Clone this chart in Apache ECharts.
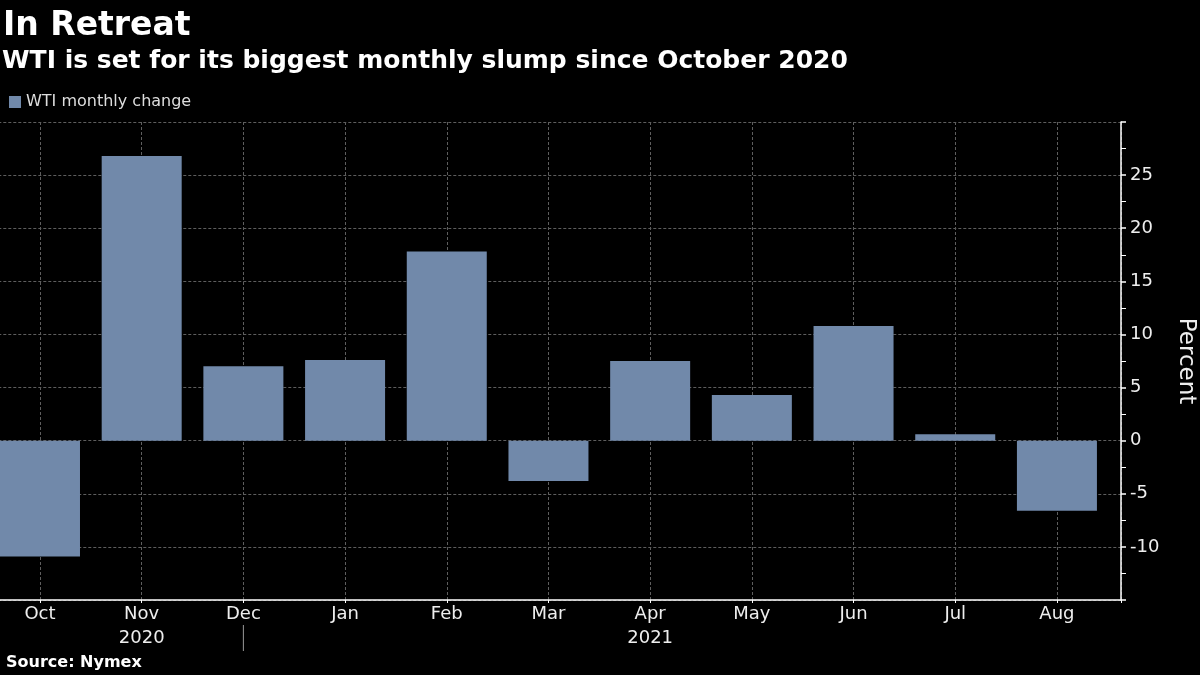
<!DOCTYPE html>
<html lang="en">
<head>
    <meta charset="UTF-8">
    <script src="https://cdn.jsdelivr.net/npm/echarts@6.0.0/dist/echarts.min.js"></script>
    <title>In Retreat</title>
    <style>
        html, body { margin: 0; padding: 0; background: #000; }
    </style>
</head>
<body>
<div id="main" style="width: 1200px;height:675px;"></div>

<script>
    // data
    var months = ['Oct', 'Nov', 'Dec', 'Jan', 'Feb', 'Mar', 'Apr', 'May', 'Jun', 'Jul', 'Aug'];
    var years = ['', '2020', '', '', '', '', '2021', '', '', '', ''];
    var yearBreak = 'Dec';
    var wtiChange = [-10.9, 26.8, 7.0, 7.6, 17.8, -3.8, 7.5, 4.3, 10.8, 0.6, -6.6];

    var font = 'DejaVu Sans';

    var barData = [];
    for (var i = 0; i < months.length; i++) {
        barData.push([i, wtiChange[i]]);
    }

    var chartDom = document.getElementById('main');
    var myChart = echarts.init(chartDom);
    var option = {
        backgroundColor: '#000',
        animation: false,
        title: [
            {
                text: 'In Retreat',
                left: 3,
                top: 10,
                padding: 0,
                textStyle: { color: '#fff', fontFamily: font, fontSize: 33, fontWeight: 'bold' }
            },
            {
                text: 'WTI is set for its biggest monthly slump since October 2020',
                left: 2,
                top: 49,
                padding: 0,
                textStyle: { color: '#fff', fontFamily: font, fontSize: 25, fontWeight: 'bold' }
            },
            {
                text: 'Source: Nymex',
                left: 6,
                top: 655,
                padding: 0,
                textStyle: { color: '#fff', fontFamily: font, fontSize: 16, fontWeight: 'bold' }
            }
        ],
        legend: {
            left: 4,
            top: 89,
            icon: 'rect',
            itemWidth: 12,
            itemHeight: 12,
            textStyle: { color: '#ddd', fontFamily: font, fontSize: 16 },
            data: ['WTI monthly change']
        },
        grid: {
            left: -61.7,
            right: 79,
            top: 122,
            bottom: 75,
            containLabel: false,
            outerBoundsMode: 'none'
        },
        xAxis: {
            type: 'value',
            min: -1,
            max: 10.63,
            interval: 1,
            axisLine: { show: true, onZero: false, lineStyle: { color: '#fff', width: 1.5 } },
            axisTick: { show: true, length: 3, lineStyle: { color: '#fff' } },
            splitLine: { show: true, lineStyle: { color: '#5e5e5e', type: [3, 2] } },
            axisLabel: {
                margin: 3,
                formatter: function (v) {
                    var k = Math.round(v);
                    if (Math.abs(v - k) > 1e-6 || k < 0 || k >= months.length) return '';
                    var s = '{m|' + months[k] + '}';
                    if (years[k]) s += '\n{y|' + years[k] + '}';
                    else if (months[k] === yearBreak) s += '\n{sep|}';
                    return s;
                },
                rich: {
                    m: { color: '#eee', fontFamily: font, fontSize: 18, lineHeight: 22 },
                    y: { color: '#eee', fontFamily: font, fontSize: 18, lineHeight: 26 },
                    sep: { width: 1, height: 26, lineHeight: 26, backgroundColor: '#999' }
                }
            }
        },
        yAxis: {
            type: 'value',
            position: 'right',
            min: -15,
            max: 30,
            interval: 5,
            name: 'Percent',
            nameLocation: 'middle',
            nameRotate: -90,
            nameGap: 53,
            nameTextStyle: { color: '#eee', fontFamily: font, fontSize: 23 },
            axisLine: { show: true, onZero: false, lineStyle: { color: '#fff', width: 1.5 } },
            axisTick: { show: true, length: 5, lineStyle: { color: '#fff', width: 1.5 } },
            minorTick: { show: true, splitNumber: 2, length: 5, lineStyle: { color: '#fff' } },
            splitLine: { show: true, lineStyle: { color: '#5e5e5e', type: [3, 2] } },
            axisLabel: {
                showMinLabel: false,
                showMaxLabel: false,
                margin: 9,
                color: '#eee',
                fontFamily: font,
                fontSize: 18
            }
        },
        series: [
            {
                name: 'WTI monthly change',
                type: 'bar',
                barWidth: 80,
                itemStyle: { color: '#7189aa' },
                data: barData
            }
        ]
    };
    myChart.setOption(option);
</script>
</body>
</html>
